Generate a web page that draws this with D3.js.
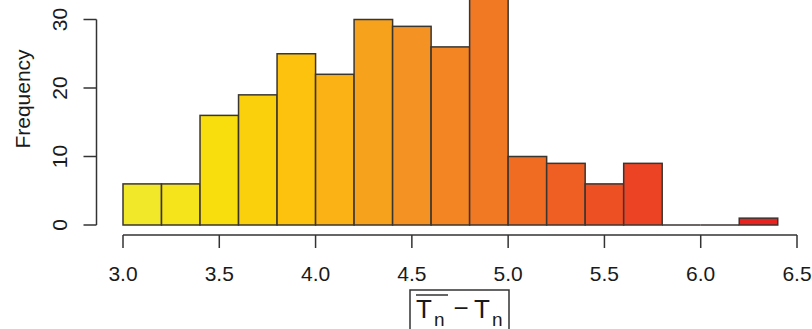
<!DOCTYPE html>
<html lang="en">
<head>
  <meta charset="UTF-8">
  <title>Histogram</title>
  <style>
    body {
      margin: 0;
      padding: 0;
      background: #fff;
    }
    svg {
      display: block;
      font-family: "Liberation Sans", Arial, Helvetica, sans-serif;
    }
    .bar {
      stroke: #3b3530;
      stroke-width: 1.5;
    }
    .axis-line {
      stroke: #333;
      stroke-width: 1.5;
      fill: none;
    }
    .tick-label {
      font-size: 21px;
      fill: #1a1a1a;
    }
  </style>
</head>
<body>
  <svg id="chart" width="812" height="329"></svg>

  <script src="https://d3js.org/d3.v7.min.js"></script>
  <script>
    // histogram bins (left edges, width 0.2) and counts
    const binStarts = [3.0, 3.2, 3.4, 3.6, 3.8, 4.0, 4.2, 4.4, 4.6, 4.8, 5.0, 5.2, 5.4, 5.6, 5.8, 6.0, 6.2];
    const binWidth = 0.2;
    const counts = [6, 6, 16, 19, 25, 22, 30, 29, 26, 35, 10, 9, 6, 9, 0, 0, 1];
    const xTicks = [3.0, 3.5, 4.0, 4.5, 5.0, 5.5, 6.0, 6.5];
    const yTicks = [0, 10, 20, 30];

    const svg = d3.select('#chart');

    const x = d3.scaleLinear().domain([3.0, 6.5]).range([123, 797]);
    const y = d3.scaleLinear().domain([0, 30]).range([225, 19.5]);

    const color = d3.scaleLinear()
      .domain([0, 2, 4, 7, 10, 13, 16])
      .range(['#f2e82a', '#f8de0c', '#fcc20e', '#f59224', '#f06c22', '#ec4324', '#e8221f']);

    const data = binStarts.map((b, i) => ({ x0: b, x1: b + binWidth, count: counts[i], i: i }));

    // bars
    svg.selectAll('.bar')
      .data(data.filter(d => d.count > 0))
      .enter()
      .append('rect')
      .attr('class', 'bar')
      .attr('x', d => x(d.x0))
      .attr('width', d => x(d.x1) - x(d.x0))
      .attr('y', d => y(d.count))
      .attr('height', d => y(0) - y(d.count))
      .style('fill', d => color(d.i));

    // empty bins still show their bottom edge
    svg.selectAll('.empty-bin')
      .data(data.filter(d => d.count === 0))
      .enter()
      .append('line')
      .attr('class', 'bar')
      .attr('x1', d => x(d.x0)).attr('x2', d => x(d.x1))
      .attr('y1', y(0)).attr('y2', y(0));

    // x axis (R style, detached)
    const xAxisY = 235;
    const xg = svg.append('g');
    xg.append('line')
      .attr('class', 'axis-line')
      .attr('x1', x(xTicks[0])).attr('x2', x(xTicks[xTicks.length - 1]))
      .attr('y1', xAxisY).attr('y2', xAxisY);
    xg.selectAll('.xtick')
      .data(xTicks)
      .enter()
      .append('line')
      .attr('class', 'axis-line')
      .attr('x1', d => x(d)).attr('x2', d => x(d))
      .attr('y1', xAxisY).attr('y2', xAxisY + 13);
    xg.selectAll('.xlabel')
      .data(xTicks)
      .enter()
      .append('text')
      .attr('class', 'tick-label')
      .attr('x', d => x(d))
      .attr('y', 281)
      .attr('text-anchor', 'middle')
      .text(d => d.toFixed(1));

    // y axis
    const yAxisX = 96.5;
    const yg = svg.append('g');
    yg.append('line')
      .attr('class', 'axis-line')
      .attr('x1', yAxisX).attr('x2', yAxisX)
      .attr('y1', y(yTicks[0])).attr('y2', y(yTicks[yTicks.length - 1]));
    yg.selectAll('.ytick')
      .data(yTicks)
      .enter()
      .append('line')
      .attr('class', 'axis-line')
      .attr('x1', yAxisX - 13).attr('x2', yAxisX)
      .attr('y1', d => y(d)).attr('y2', d => y(d));
    yg.selectAll('.ylabel')
      .data(yTicks)
      .enter()
      .append('text')
      .attr('class', 'tick-label')
      .attr('transform', d => `translate(67, ${y(d)}) rotate(-90)`)
      .attr('text-anchor', 'middle')
      .text(d => d);

    svg.append('text')
      .attr('class', 'tick-label')
      .attr('transform', 'translate(30, 99) rotate(-90)')
      .attr('text-anchor', 'middle')
      .text('Frequency');

    // x label: |overline(T_n) - T_n|
    const lab = svg.append('g').attr('transform', `translate(${(x(3.0) + x(6.5)) / 2}, 0)`);
    const labStroke = '#333';
    lab.append('path')
      .attr('d', 'M-50,331 L-50,290 L49,290 L49,331')
      .attr('fill', 'none')
      .attr('stroke', labStroke)
      .attr('stroke-width', 1.5);
    lab.append('line')
      .attr('x1', -44).attr('x2', -12)
      .attr('y1', 295).attr('y2', 295)
      .attr('stroke', labStroke)
      .attr('stroke-width', 1.5);
    const bigT = 26, smallN = 19;
    const ink = '#1a1a1a';
    lab.append('text').attr('x', -44).attr('y', 318).style('font-size', bigT + 'px').attr('fill', ink).text('T');
    lab.append('text').attr('x', -26).attr('y', 326).style('font-size', smallN + 'px').attr('fill', ink).text('n');
    lab.append('text').attr('x', 1).attr('y', 317).attr('text-anchor', 'middle').style('font-size', bigT + 'px').attr('fill', ink).text('\u2212');
    lab.append('text').attr('x', 14).attr('y', 318).style('font-size', bigT + 'px').attr('fill', ink).text('T');
    lab.append('text').attr('x', 32).attr('y', 326).style('font-size', smallN + 'px').attr('fill', ink).text('n');
  </script>
</body>
</html>
